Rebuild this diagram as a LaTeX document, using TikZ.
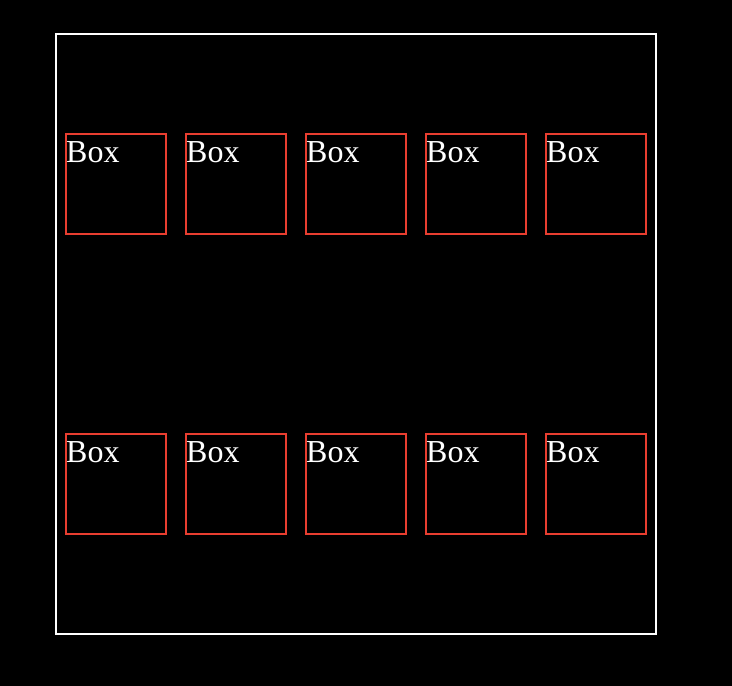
\documentclass[tikz,border=0pt]{standalone}
\usepackage{fontspec}
\setmainfont{Liberation Serif}
\definecolor{boxred}{RGB}{232,62,48}

\begin{document}
\begin{tikzpicture}[x=1pt, y=-1pt,
    caja/.style={draw=boxred, line width=2pt, minimum size=100pt, inner sep=0pt},
    rotulo/.style={white, inner sep=0pt, anchor=base west, font=\fontsize{32}{38}\selectfont}]
    % Fondo
    \fill[black] (0,0) rectangle (732,686);

    % Marco
    \draw[white, line width=2pt] (56,34) rectangle (656,634);

    % Cajas
    \foreach \j/\y in {1/184, 2/484} {
        \foreach \i in {1,...,5} {
            \node[caja] (b-\j-\i) at ({-4+120*\i},\y) {};
            \node[rotulo] (t-\j-\i) at ([shift={(1,29)}]b-\j-\i.north west) {Box};
        }
    }
\end{tikzpicture}
\end{document}
